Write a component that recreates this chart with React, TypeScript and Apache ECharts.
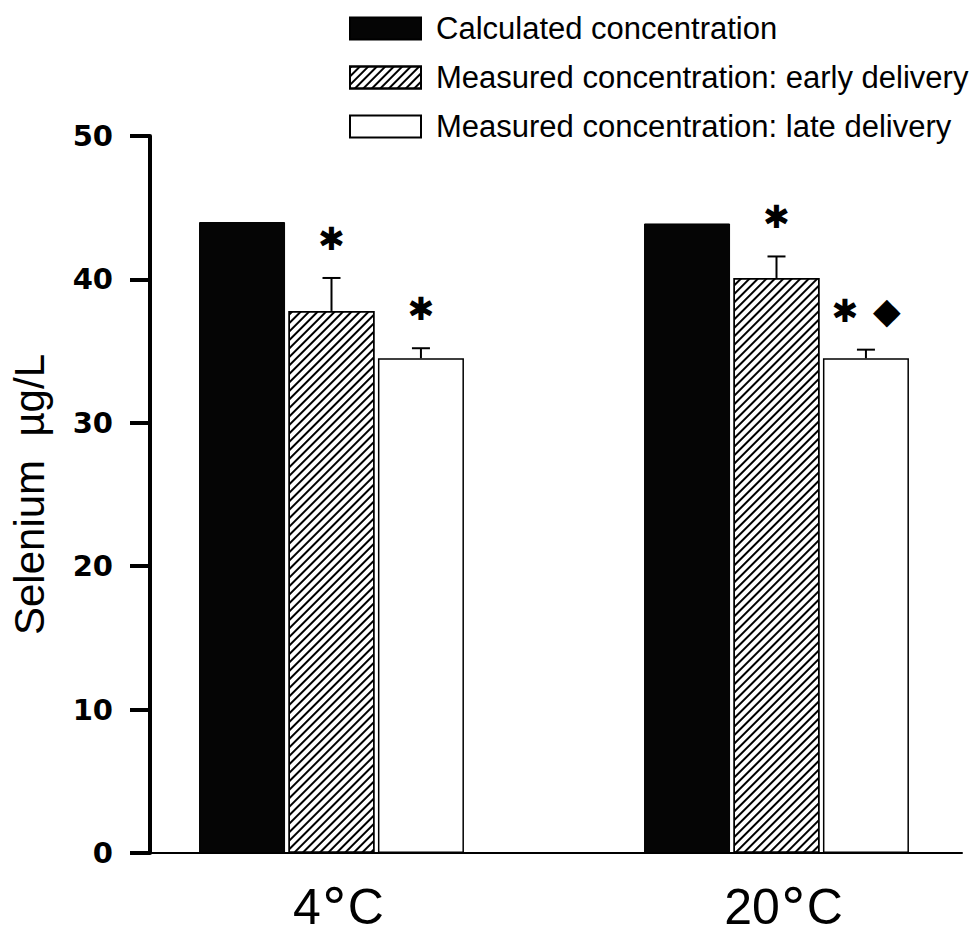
import React, { useEffect, useRef } from "react";
import * as echarts from "echarts";

// Storage temperature groups
const categories = ["4°C", "20°C"];

const seriesNames = [
  "Calculated concentration",
  "Measured concentration: early delivery",
  "Measured concentration: late delivery",
];

// Selenium, µg/L
const calculated = [44.0, 43.9];
const earlyMean = [37.8, 40.1];
const earlyErr = [2.3, 1.5];
const lateMean = [34.5, 34.5];
const lateErr = [0.7, 0.6];

// Significance marks drawn above the error bars
const earlyMarks = ["✱", "✱"];
const lateMarks = ["✱", "✱  ◆"];

const yMin = 0;
const yMax = 50;
const yStep = 10;

const BAR_W = 86;
const BAR_GAP = 0.04;

export default function App() {
  const ref = useRef<HTMLDivElement>(null);

  useEffect(() => {
    if (!ref.current) return;
    const chart = echarts.init(ref.current, undefined, { renderer: "svg" });

    const gapPx = BAR_W * BAR_GAP;
    const errData: number[][] = [];
    categories.forEach((_, i) => {
      errData.push([i, earlyMean[i], earlyMean[i] + earlyErr[i], 0]);
      errData.push([i, lateMean[i], lateMean[i] + lateErr[i], 1]);
    });

    const option: any = {
      animation: false,
      backgroundColor: "#fff",
      legend: {
        orient: "vertical",
        left: 349,
        top: 13,
        padding: 0,
        icon: "rect",
        itemWidth: 71,
        itemHeight: 22,
        itemGap: 18,
        selectedMode: false,
        data: seriesNames,
        textStyle: {
          fontFamily: "Liberation Sans",
          fontSize: 31,
          lineHeight: 29,
          color: "#000",
          padding: [0, 0, 0, 10],
        },
      },
      grid: [
        { left: 150, right: 13, top: 136, bottom: 85, outerBoundsMode: "none" },
        { left: 109, width: 890, top: 136, bottom: 85, outerBoundsMode: "none" },
      ],
      xAxis: [
        {
          type: "category",
          gridIndex: 0,
          data: categories,
          axisLine: { show: true, lineStyle: { color: "#000", width: 2 } },
          axisTick: { show: false },
          axisLabel: { show: false },
        },
        {
          type: "category",
          gridIndex: 1,
          data: categories,
          axisLine: { show: false },
          axisTick: { show: false },
          axisLabel: {
            margin: 34,
            padding: [0, 0, 0, 14],
            formatter: (v: string) => {
              const [a, b] = v.split("°");
              return `{n|${a}}{d|°}{n|${b}}`;
            },
            rich: {
              n: {
                fontFamily: "Liberation Sans",
                fontSize: 50,
                lineHeight: 40,
                verticalAlign: "middle",
                color: "#000",
              },
              d: {
                fontFamily: "DejaVu Sans",
                fontSize: 54,
                lineHeight: 40,
                verticalAlign: "middle",
                color: "#000",
              },
            },
          },
        },
      ],
      yAxis: [
        {
          type: "value",
          gridIndex: 0,
          min: yMin,
          max: yMax,
          interval: yStep,
          name: "Selenium  µg/L",
          nameLocation: "middle",
          nameGap: 100,
          nameTextStyle: {
            fontFamily: "Liberation Sans",
            fontSize: 42,
            color: "#000",
          },
          axisLine: { show: true, lineStyle: { color: "#000", width: 4 } },
          axisTick: { show: true, length: 20, lineStyle: { color: "#000", width: 4 } },
          axisLabel: {
            margin: 37,
            fontFamily: "DejaVu Sans",
            fontWeight: "bold",
            fontSize: 29,
            color: "#000",
          },
          splitLine: { show: false },
        },
        {
          type: "value",
          gridIndex: 1,
          min: yMin,
          max: yMax,
          interval: yStep,
          show: false,
        },
      ],
      series: [
        {
          name: seriesNames[0],
          type: "bar",
          xAxisIndex: 1,
          yAxisIndex: 1,
          barWidth: BAR_W,
          barGap: `${BAR_GAP * 100}%`,
          data: calculated,
          itemStyle: { color: "#050505", borderColor: "#000", borderWidth: 1 },
        },
        {
          name: seriesNames[1],
          type: "bar",
          xAxisIndex: 1,
          yAxisIndex: 1,
          barWidth: BAR_W,
          barGap: `${BAR_GAP * 100}%`,
          data: earlyMean,
          itemStyle: {
            color: "#fff",
            borderColor: "#000",
            borderWidth: 1.5,
            decal: {
              symbol: "rect",
              symbolSize: 1,
              color: "#000",
              backgroundColor: "#fff",
              dashArrayX: [1, 0],
              dashArrayY: [2, 4],
              rotation: -Math.PI / 4,
            },
          },
        },
        {
          name: seriesNames[2],
          type: "bar",
          xAxisIndex: 1,
          yAxisIndex: 1,
          barWidth: BAR_W,
          barGap: `${BAR_GAP * 100}%`,
          data: lateMean,
          itemStyle: { color: "#fff", borderColor: "#000", borderWidth: 1.5 },
        },
        {
          type: "custom",
          xAxisIndex: 1,
          yAxisIndex: 1,
          z: 5,
          data: errData,
          renderItem: (params: any, api: any) => {
            const cat = api.value(0);
            const lo = api.value(1);
            const hi = api.value(2);
            const slot = api.value(3);
            const base = api.coord([cat, lo]);
            const top = api.coord([cat, hi]);
            const x = base[0] + slot * (BAR_W + gapPx);
            const mark = slot === 0 ? earlyMarks[cat] : lateMarks[cat];
            const parts = mark.split("  ");
            const texts: any[] = [
              {
                type: "text",
                style: {
                  text: parts[0],
                  x: parts.length > 1 ? x - 21 : x,
                  y: top[1] - 39,
                  align: "center",
                  verticalAlign: "middle",
                  fontFamily: "DejaVu Sans",
                  fontSize: 32,
                  fill: "#000",
                },
              },
            ];
            if (parts.length > 1) {
              texts.push({
                type: "text",
                style: {
                  text: parts[1],
                  x: x + 21,
                  y: top[1] - 39,
                  align: "center",
                  verticalAlign: "middle",
                  fontFamily: "DejaVu Sans",
                  fontSize: 36,
                  fill: "#000",
                },
              });
            }
            return {
              type: "group",
              children: [
                {
                  type: "line",
                  shape: { x1: x, y1: base[1], x2: x, y2: top[1] },
                  style: { stroke: "#000", lineWidth: 2 },
                },
                {
                  type: "line",
                  shape: { x1: x - 9, y1: top[1], x2: x + 9, y2: top[1] },
                  style: { stroke: "#000", lineWidth: 2 },
                },
                ...texts,
              ],
            };
          },
        },
      ],
    };

    chart.setOption(option);
    return () => chart.dispose();
  }, []);

  return (
    <div
      ref={ref}
      style={{ position: "fixed", left: 0, top: 0, width: 975, height: 938 }}
    />
  );
}
